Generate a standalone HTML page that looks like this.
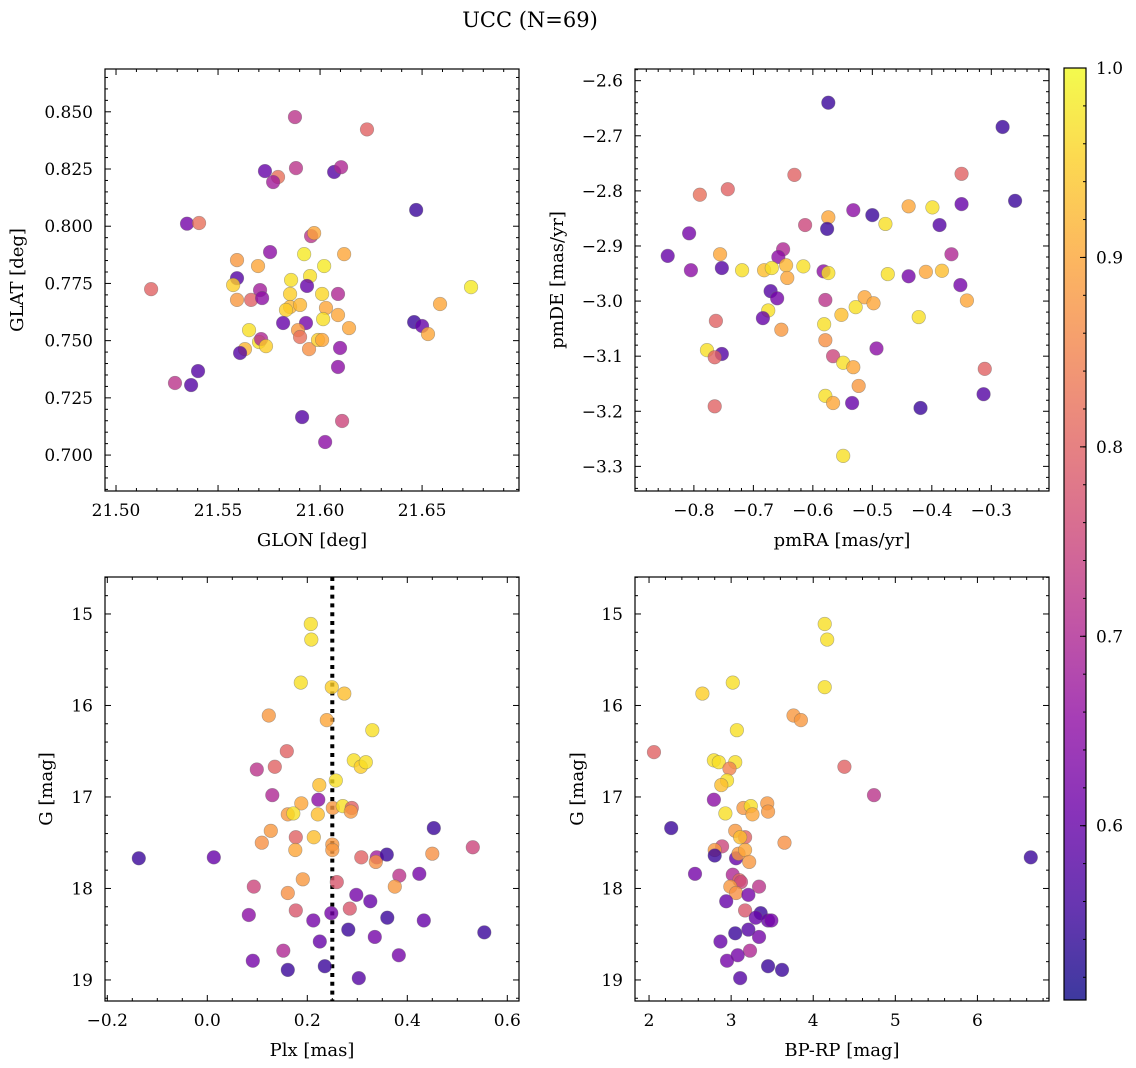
<!DOCTYPE html>
<html><head><meta charset="utf-8">
<style>
html,body{margin:0;padding:0;background:#fff;}
svg{display:block;font-family:"DejaVu Serif","Liberation Serif",serif;}
</style></head>
<body>
<svg id="fig" width="1136" height="1068" viewBox="0 0 1136 1068" xmlns="http://www.w3.org/2000/svg">
<text x="530" y="27" font-size="21" text-anchor="middle">UCC (N=69)</text>
</svg>
<script>
// ---- Panel 1: GLON vs GLAT ----
const glon1=[21.5877,21.6230,21.5730,21.5794,21.5882,21.5770,21.6069,21.6103,21.5348,21.5407,21.6471,21.5956,21.5971,21.5593,21.5755,21.5696,21.5922,21.6118,21.5593,21.5574,21.5858,21.5951,21.6020,21.5172,21.5706,21.5853,21.5936,21.6010,21.6088,21.6740,21.5593,21.5662,21.5716,21.5853,21.5902,21.5833,21.6029,21.6015,21.6588,21.5652,21.5819,21.5931,21.6142,21.5892,21.5902,21.6088,21.6461,21.6500,21.6529,21.5701,21.5711,21.5735,21.5632,21.5946,21.5990,21.6010,21.6098,21.5608,21.6088,21.5402,21.5368,21.5289,21.5912,21.6108,21.6025];
const glat1=[0.8477,0.8423,0.8241,0.8215,0.8254,0.8193,0.8237,0.8258,0.8011,0.8014,0.8071,0.7957,0.7970,0.7852,0.7887,0.7826,0.7878,0.7878,0.7773,0.7743,0.7765,0.7782,0.7826,0.7725,0.7721,0.7704,0.7739,0.7704,0.7704,0.7734,0.7678,0.7678,0.7686,0.7647,0.7656,0.7634,0.7643,0.7594,0.7660,0.7546,0.7577,0.7577,0.7555,0.7546,0.7516,0.7612,0.7581,0.7564,0.7529,0.7494,0.7507,0.7476,0.7463,0.7463,0.7503,0.7503,0.7468,0.7446,0.7385,0.7367,0.7306,0.7315,0.7166,0.7149,0.7057];
const prob1=[0.72,0.8,0.6,0.82,0.72,0.68,0.58,0.7,0.62,0.82,0.55,0.72,0.9,0.88,0.65,0.9,0.98,0.9,0.58,0.95,0.97,0.97,0.98,0.8,0.68,0.95,0.6,0.96,0.7,0.98,0.88,0.8,0.65,0.92,0.92,0.95,0.9,0.97,0.9,0.97,0.6,0.62,0.9,0.88,0.82,0.9,0.55,0.6,0.9,0.97,0.7,0.95,0.92,0.87,0.95,0.9,0.65,0.58,0.65,0.58,0.58,0.72,0.58,0.75,0.65];
// ---- Panel 2: pmRA vs pmDE ----
const pmra2=[-0.574,-0.281,-0.260,-0.631,-0.350,-0.743,-0.790,-0.532,-0.500,-0.439,-0.399,-0.350,-0.574,-0.576,-0.478,-0.387,-0.613,-0.808,-0.844,-0.756,-0.650,-0.658,-0.753,-0.805,-0.719,-0.682,-0.669,-0.645,-0.616,-0.582,-0.574,-0.474,-0.439,-0.410,-0.383,-0.367,-0.352,-0.643,-0.671,-0.660,-0.675,-0.684,-0.513,-0.498,-0.528,-0.579,-0.552,-0.341,-0.422,-0.763,-0.581,-0.653,-0.579,-0.778,-0.493,-0.753,-0.765,-0.566,-0.549,-0.532,-0.311,-0.523,-0.313,-0.579,-0.566,-0.534,-0.765,-0.419,-0.549];
const pmde2=[-2.640,-2.684,-2.818,-2.771,-2.769,-2.797,-2.807,-2.835,-2.844,-2.828,-2.830,-2.824,-2.848,-2.869,-2.860,-2.862,-2.862,-2.877,-2.918,-2.915,-2.906,-2.920,-2.940,-2.944,-2.944,-2.944,-2.940,-2.935,-2.937,-2.946,-2.949,-2.951,-2.955,-2.947,-2.945,-2.915,-2.971,-2.958,-2.982,-2.995,-3.017,-3.031,-2.993,-3.004,-3.011,-2.998,-3.025,-2.999,-3.029,-3.036,-3.042,-3.052,-3.071,-3.089,-3.086,-3.096,-3.102,-3.100,-3.112,-3.120,-3.123,-3.154,-3.169,-3.172,-3.185,-3.185,-3.191,-3.194,-3.281];
const prob2=[0.55,0.55,0.55,0.8,0.8,0.8,0.82,0.65,0.55,0.9,0.97,0.6,0.9,0.55,0.97,0.58,0.75,0.62,0.6,0.9,0.7,0.65,0.58,0.65,0.97,0.93,0.97,0.92,0.97,0.65,0.97,0.97,0.62,0.9,0.93,0.7,0.62,0.9,0.58,0.62,0.97,0.6,0.9,0.9,0.97,0.72,0.93,0.9,0.97,0.8,0.97,0.88,0.87,0.97,0.65,0.58,0.8,0.75,0.97,0.9,0.8,0.88,0.58,0.97,0.9,0.6,0.8,0.55,0.97];
// ---- Panel 3: Plx vs G ----
const plx3=[0.207,0.208,0.187,0.249,0.274,0.123,0.239,0.330,0.159,0.135,0.099,0.293,0.307,0.317,0.224,0.257,0.130,0.222,0.188,0.251,0.271,0.289,0.287,0.161,0.172,0.221,0.127,0.109,0.177,0.213,0.250,0.250,0.176,-0.137,0.013,0.308,0.339,0.337,0.359,0.453,0.450,0.531,0.191,0.259,0.384,0.424,0.093,0.161,0.375,0.298,0.326,0.177,0.285,0.083,0.248,0.212,0.360,0.433,0.282,0.554,0.335,0.225,0.152,0.383,0.091,0.161,0.235,0.303];
const g3=[15.11,15.28,15.75,15.80,15.87,16.11,16.16,16.27,16.50,16.67,16.70,16.60,16.67,16.62,16.87,16.82,16.98,17.03,17.07,17.12,17.10,17.12,17.16,17.19,17.18,17.19,17.37,17.50,17.44,17.44,17.52,17.58,17.58,17.67,17.66,17.66,17.66,17.71,17.63,17.34,17.62,17.55,17.90,17.93,17.86,17.84,17.98,18.05,17.98,18.07,18.14,18.24,18.22,18.29,18.27,18.35,18.32,18.35,18.45,18.48,18.53,18.58,18.68,18.73,18.79,18.89,18.85,18.98];
const prob3=[0.97,0.97,0.97,0.95,0.93,0.88,0.9,0.97,0.8,0.8,0.72,0.97,0.95,0.97,0.93,0.97,0.7,0.65,0.9,0.88,0.97,0.8,0.88,0.88,0.97,0.93,0.88,0.87,0.8,0.93,0.88,0.88,0.9,0.55,0.6,0.8,0.68,0.87,0.55,0.55,0.87,0.75,0.88,0.78,0.72,0.62,0.75,0.87,0.88,0.62,0.6,0.78,0.78,0.65,0.62,0.62,0.55,0.6,0.55,0.55,0.62,0.6,0.7,0.62,0.62,0.55,0.55,0.58];
const plxRef=[0.25];
// ---- Panel 4: BP-RP vs G ----
const bprp4=[4.14,4.17,4.14,3.02,2.65,3.76,3.85,3.07,2.06,4.38,4.74,2.79,2.85,3.05,2.98,2.95,2.88,2.79,2.93,3.15,3.24,3.26,3.44,3.45,2.27,3.05,3.17,3.11,3.65,2.89,2.80,2.80,3.06,3.09,3.17,3.22,2.56,3.02,3.10,3.12,2.99,3.06,3.34,3.21,2.94,3.17,3.36,3.30,3.45,3.49,3.05,3.21,3.34,2.87,3.23,3.08,2.95,3.45,3.62,3.11,6.65];
const g4=[15.11,15.28,15.80,15.75,15.87,16.11,16.16,16.27,16.51,16.67,16.98,16.60,16.62,16.62,16.69,16.82,16.87,17.03,17.18,17.12,17.10,17.19,17.07,17.16,17.34,17.37,17.44,17.44,17.50,17.54,17.58,17.64,17.67,17.62,17.58,17.71,17.84,17.85,17.91,17.93,17.98,18.05,17.98,18.07,18.14,18.24,18.27,18.32,18.35,18.35,18.49,18.45,18.53,18.58,18.68,18.73,18.79,18.85,18.89,18.98,17.66];
const prob4=[0.97,0.97,0.97,0.97,0.95,0.88,0.88,0.97,0.8,0.8,0.72,0.97,0.97,0.97,0.85,0.97,0.93,0.65,0.97,0.88,0.97,0.9,0.88,0.88,0.55,0.88,0.8,0.93,0.87,0.75,0.88,0.55,0.6,0.88,0.9,0.88,0.62,0.7,0.8,0.75,0.88,0.87,0.72,0.62,0.6,0.78,0.55,0.6,0.6,0.62,0.55,0.58,0.62,0.6,0.7,0.62,0.62,0.55,0.55,0.58,0.55];
// ---- Colorbar ticks ----
const cbTicks=[0.6,0.7,0.8,0.9,1.0];
const cbMin=0.508, cbMax=1.0;

const NS="http://www.w3.org/2000/svg";
const svg=document.getElementById('fig');
const TF=17, LF=18;
function mk(tag,attrs,parent){const e=document.createElementNS(NS,tag);for(const k in attrs)e.setAttribute(k,attrs[k]);(parent||svg).appendChild(e);return e;}
const stops=["#0d0887","#41049d","#6a00a8","#8f0da4","#b12a90","#cc4778","#e16462","#f2844b","#fca636","#fcce25","#f0f921"];
function hex(h){return[parseInt(h.substr(1,2),16),parseInt(h.substr(3,2),16),parseInt(h.substr(5,2),16)];}
function plasma(t){t=Math.max(0,Math.min(1,t));const f=t*10,i=Math.min(9,Math.floor(f)),r=f-i;const a=hex(stops[i]),b=hex(stops[i+1]);return "rgb("+a.map((v,k)=>Math.round(v+(b[k]-v)*r)).join(",")+")";}
function fmt(v,d){return (v<-1e-9?"\u2212":"")+Math.abs(v).toFixed(d);}

function panel(c){
  const g=mk('g',{});
  
  
  const sx=v=>c.px0+(v-c.xmin)/(c.xmax-c.xmin)*(c.px1-c.px0);
  const sy=v=>c.py1-(v-c.ymin)/(c.ymax-c.ymin)*(c.py1-c.py0);
  if(c.vline){c.vline.forEach(v=>{const l=mk('line',{x1:sx(v),x2:sx(v),y1:c.py0,y2:c.py1,stroke:'#000','stroke-width':4,'stroke-dasharray':'4 4.8'},g);
    
    });}
  for(let i=0;i<c.xs.length;i++){
    const p=mk('circle',{cx:sx(c.xs[i]),cy:sy(c.ys[i]),r:6.8,fill:plasma((c.ps[i]-cbMin)/(cbMax-cbMin)),'fill-opacity':0.8,stroke:'#666','stroke-opacity':0.5,'stroke-width':0.6},g);
    
    
  }
  const fr=mk('rect',{x:c.px0,y:c.py0,width:c.px1-c.px0,height:c.py1-c.py0,fill:'none',stroke:'#000','stroke-width':1.2},g);
  
  
  const lo=Math.min(c.xmin,c.xmax),hi=Math.max(c.xmin,c.xmax);
  for(let v=Math.ceil(lo/c.xminor-1e-6)*c.xminor;v<=hi+1e-9;v+=c.xminor){
    const major=Math.abs(v/c.xmajor-Math.round(v/c.xmajor))<1e-4;const L=major?6:3;const X=sx(v);
    mk('line',{x1:X,x2:X,y1:c.py1,y2:c.py1-L,stroke:'#000','stroke-width':1},g);
    mk('line',{x1:X,x2:X,y1:c.py0,y2:c.py0+L,stroke:'#000','stroke-width':1},g);
    if(major){const t=mk('text',{x:X,y:c.py1+25,'font-size':TF,'text-anchor':'middle'},g);t.textContent=fmt(Math.round(v/c.xmajor)*c.xmajor,c.xd);
      
      }
  }
  const ylo=Math.min(c.ymin,c.ymax),yhi=Math.max(c.ymin,c.ymax);
  for(let v=Math.ceil(ylo/c.yminor-1e-6)*c.yminor;v<=yhi+1e-9;v+=c.yminor){
    const major=Math.abs(v/c.ymajor-Math.round(v/c.ymajor))<1e-4;const L=major?6:3;const Y=sy(v);
    mk('line',{x1:c.px0,x2:c.px0+L,y1:Y,y2:Y,stroke:'#000','stroke-width':1},g);
    mk('line',{x1:c.px1,x2:c.px1-L,y1:Y,y2:Y,stroke:'#000','stroke-width':1},g);
    if(major){const t=mk('text',{x:c.px0-12,y:Y+6,'font-size':TF,'text-anchor':'end'},g);t.textContent=fmt(Math.round(v/c.ymajor)*c.ymajor,c.yd);
      
      }
  }
  const xl=mk('text',{x:(c.px0+c.px1)/2,y:c.py1+55,'font-size':LF,'text-anchor':'middle'},g);xl.textContent=c.xlabel;
  
  
  const yx=c.ylx,yy=(c.py0+c.py1)/2;
  const yl=mk('text',{x:yx,y:yy,'font-size':LF,'text-anchor':'middle',transform:'rotate(-90 '+yx+' '+yy+')'},g);yl.textContent=c.ylabel;
  
  
}
panel({name:'panel-glon-glat',px0:105,px1:519,py0:69,py1:491,xmin:21.4946,xmax:21.6975,ymin:0.6843,ymax:0.8687,xmajor:0.05,xminor:0.01,ymajor:0.025,yminor:0.005,xd:2,yd:3,xs:glon1,ys:glat1,ps:prob1,xlabel:'GLON [deg]',ylabel:'GLAT [deg]',ylx:23});
panel({name:'panel-pmra-pmde',px0:635,px1:1049,py0:69,py1:491,xmin:-0.8990,xmax:-0.2030,ymin:-3.3447,ymax:-2.5788,xmajor:0.1,xminor:0.02,ymajor:0.1,yminor:0.02,xd:1,yd:1,xs:pmra2,ys:pmde2,ps:prob2,xlabel:'pmRA [mas/yr]',ylabel:'pmDE [mas/yr]',ylx:563});
panel({name:'panel-plx-g',px0:105,px1:519,py0:577,py1:1001,xmin:-0.2046,xmax:0.6234,ymin:19.23,ymax:14.596,xmajor:0.2,xminor:0.05,ymajor:1,yminor:0.2,xd:1,yd:0,xs:plx3,ys:g3,ps:prob3,xlabel:'Plx [mas]',ylabel:'G [mag]',ylx:52,vline:plxRef});
panel({name:'panel-bprp-g',px0:635,px1:1049,py0:577,py1:1001,xmin:1.829,xmax:6.872,ymin:19.23,ymax:14.596,xmajor:1,xminor:0.2,ymajor:1,yminor:0.2,xd:0,yd:0,xs:bprp4,ys:g4,ps:prob4,xlabel:'BP-RP [mag]',ylabel:'G [mag]',ylx:583});

const defs=mk('defs',{});
const lg=mk('linearGradient',{id:'cbg',x1:0,y1:1,x2:0,y2:0},defs);
for(let i=0;i<=20;i++){mk('stop',{offset:i/20,'stop-color':plasma(i/20)},lg);}
const cb=mk('g',{});


const cx0=1064,cx1=1086,cy0=68,cy1=1000;
mk('rect',{x:cx0,y:cy0,width:cx1-cx0,height:cy1-cy0,fill:'url(#cbg)','fill-opacity':0.8},cb);
mk('rect',{x:cx0,y:cy0,width:cx1-cx0,height:cy1-cy0,fill:'none',stroke:'#000','stroke-width':1.2},cb);
const cby=v=>cy1-(v-cbMin)/(cbMax-cbMin)*(cy1-cy0);
for(let v=0.52;v<=1.0001;v+=0.02){const Y=cby(v);mk('line',{x1:cx1,x2:cx1-3,y1:Y,y2:Y,stroke:'#000','stroke-width':1},cb);}
cbTicks.forEach(v=>{const Y=cby(v);mk('line',{x1:cx1,x2:cx1-6,y1:Y,y2:Y,stroke:'#000','stroke-width':1},cb);
  const t=mk('text',{x:cx1+10,y:Y+6,'font-size':TF},cb);t.textContent=v.toFixed(1);
  
  });
</script>
</body></html>
